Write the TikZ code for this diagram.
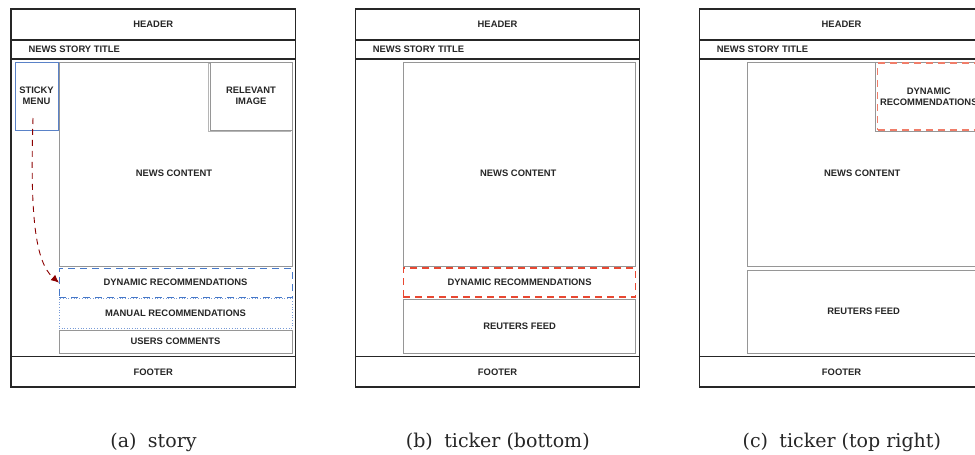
\documentclass[tikz,border=0pt]{standalone}
\usepackage{fontspec}
\setmainfont{DejaVu Serif}
\newfontfamily\labfont{Liberation Sans}
\usetikzlibrary{arrows.meta}
\definecolor{dynblue}{RGB}{70,120,200}
\definecolor{manblue}{RGB}{120,155,215}
\definecolor{stickyblue}{RGB}{90,130,200}
\definecolor{tickred}{RGB}{232,72,50}
\definecolor{ticksalmon}{RGB}{240,125,105}
\definecolor{boxgray}{RGB}{150,150,150}
\definecolor{arrowred}{RGB}{140,0,0}
\tikzset{
  x=1pt, y=-1pt,
  lab/.style={font=\labfont\bfseries\fontsize{9.4}{11}\selectfont, align=center, text=black!85},
  frame/.style={draw=black!85, line width=1.3pt, anchor=north west, inner sep=0pt, outer sep=0pt, minimum width=284.5pt, lab},
  gbox/.style={draw=boxgray, line width=0.9pt, anchor=north west, inner sep=0pt, outer sep=0pt, fill=white, lab},
  shadowbox/.style={draw=boxgray!70, line width=0.9pt, anchor=north west, inner sep=0pt, outer sep=0pt},
  stickybox/.style={draw=stickyblue, line width=0.8pt, anchor=north west, inner sep=0pt, outer sep=0pt, lab},
  dynbluebox/.style={draw=dynblue, line width=1pt, dash pattern=on 7pt off 5pt, anchor=north west, inner sep=0pt, outer sep=0pt, lab},
  manbox/.style={draw=manblue, line width=0.7pt, dotted, anchor=north west, inner sep=0pt, outer sep=0pt, lab},
  dynredbox/.style={draw=tickred, line width=1.1pt, dash pattern=on 7pt off 5pt, anchor=north west, inner sep=0pt, outer sep=0pt, lab},
  dynsalmonbox/.style={draw=ticksalmon, line width=1.3pt, dash pattern=on 7pt off 5pt, anchor=north west, inner sep=0pt, outer sep=0pt, fill=white, lab},
  caption/.style={anchor=base, font=\fontsize{19}{22}\selectfont, text=black!85},
  flow/.style={draw=arrowred, line width=0.9pt, dash pattern=on 6pt off 5pt, -{Latex[length=8pt,width=7pt]}}
}
\begin{document}
\begin{tikzpicture}
\useasboundingbox (0,0) rectangle (975,455);
\clip (0,0) rectangle (975,455);
\fill[white] (0,0) rectangle (975,455);

% ---------------- panel (a) ----------------
\begin{scope}[xshift=11pt]
  \node[frame, minimum height=31pt] (hdrA) at (0,9) {HEADER};
  \node[frame, minimum height=19pt] (titA) at (0,40) {};
  \node[lab, anchor=west] (tittxtA) at (14,49.7) {NEWS STORY TITLE};
  \node[frame, minimum height=297.7pt] (bodyA) at (0,59) {};
  \node[frame, minimum height=30.3pt] (ftrA) at (0,356.7) {FOOTER};
  \node[stickybox, minimum width=43pt, minimum height=68pt] (stickyA) at (4,62) {STICKY\\MENU};
  \node[gbox, minimum width=233pt, minimum height=204pt] (newsA) at (48,62) {};
  \node[lab] (newstxtA) at (163,173.7) {NEWS CONTENT};
  \node[shadowbox, minimum width=81.5pt, minimum height=68pt] (imgshA) at (197.6,63.5) {};
  \node[gbox, minimum width=82pt, minimum height=68pt] (imgA) at (199,62) {RELEVANT\\IMAGE};
  \node[dynbluebox, minimum width=233pt, minimum height=29.5pt] (dynA) at (48,268) {DYNAMIC RECOMMENDATIONS};
  \node[manbox, minimum width=233pt, minimum height=30pt] (manA) at (48,298) {MANUAL RECOMMENDATIONS};
  \node[gbox, minimum width=233pt, minimum height=23pt] (comA) at (48,330) {USERS COMMENTS};
  \coordinate (startA) at (22,118);
  \draw[flow] (startA) .. controls (19,215) and (24,262) .. (dynA.west);
  \node[caption] (capA) at (142.5,447) {(a)\hspace{0.6em}story};
\end{scope}

% ---------------- panel (b) ----------------
\begin{scope}[xshift=355.3pt]
  \node[frame, minimum height=31pt] (hdrB) at (0,9) {HEADER};
  \node[frame, minimum height=19pt] (titB) at (0,40) {};
  \node[lab, anchor=west] (tittxtB) at (14,49.7) {NEWS STORY TITLE};
  \node[frame, minimum height=297.7pt] (bodyB) at (0,59) {};
  \node[frame, minimum height=30.3pt] (ftrB) at (0,356.7) {FOOTER};
  \node[gbox, minimum width=232.5pt, minimum height=204pt] (newsB) at (48,62) {};
  \node[lab] (newstxtB) at (163,173.7) {NEWS CONTENT};
  \node[dynredbox, minimum width=232.5pt, minimum height=29pt] (dynB) at (48,268) {DYNAMIC RECOMMENDATIONS};
  \node[gbox, minimum width=232.5pt, minimum height=54pt] (reutB) at (48,299) {REUTERS FEED};
  \node[caption] (capB) at (142.5,447) {(b)\hspace{0.6em}ticker (bottom)};
\end{scope}

% ---------------- panel (c) ----------------
\begin{scope}[xshift=699.3pt]
  \node[frame, minimum height=31pt] (hdrC) at (0,9) {HEADER};
  \node[frame, minimum height=19pt] (titC) at (0,40) {};
  \node[lab, anchor=west] (tittxtC) at (14,49.7) {NEWS STORY TITLE};
  \node[frame, minimum height=297.7pt] (bodyC) at (0,59) {};
  \node[frame, minimum height=30.3pt] (ftrC) at (0,356.7) {FOOTER};
  \node[gbox, minimum width=232pt, minimum height=204.5pt] (newsC) at (48.4,62) {};
  \node[lab] (newstxtC) at (163,173.7) {NEWS CONTENT};
  \node[gbox, minimum width=104pt, minimum height=69pt] (dynshC) at (176.5,62) {};
  \node[dynsalmonbox, minimum width=102pt, minimum height=67pt] (dynC) at (178.5,63) {DYNAMIC\\RECOMMENDATIONS};
  \node[gbox, minimum width=232pt, minimum height=83pt] (reutC) at (48.4,270) {REUTERS FEED};
  \node[caption] (capC) at (142.5,447) {(c)\hspace{0.6em}ticker (top right)};
\end{scope}
\end{tikzpicture}
\end{document}
